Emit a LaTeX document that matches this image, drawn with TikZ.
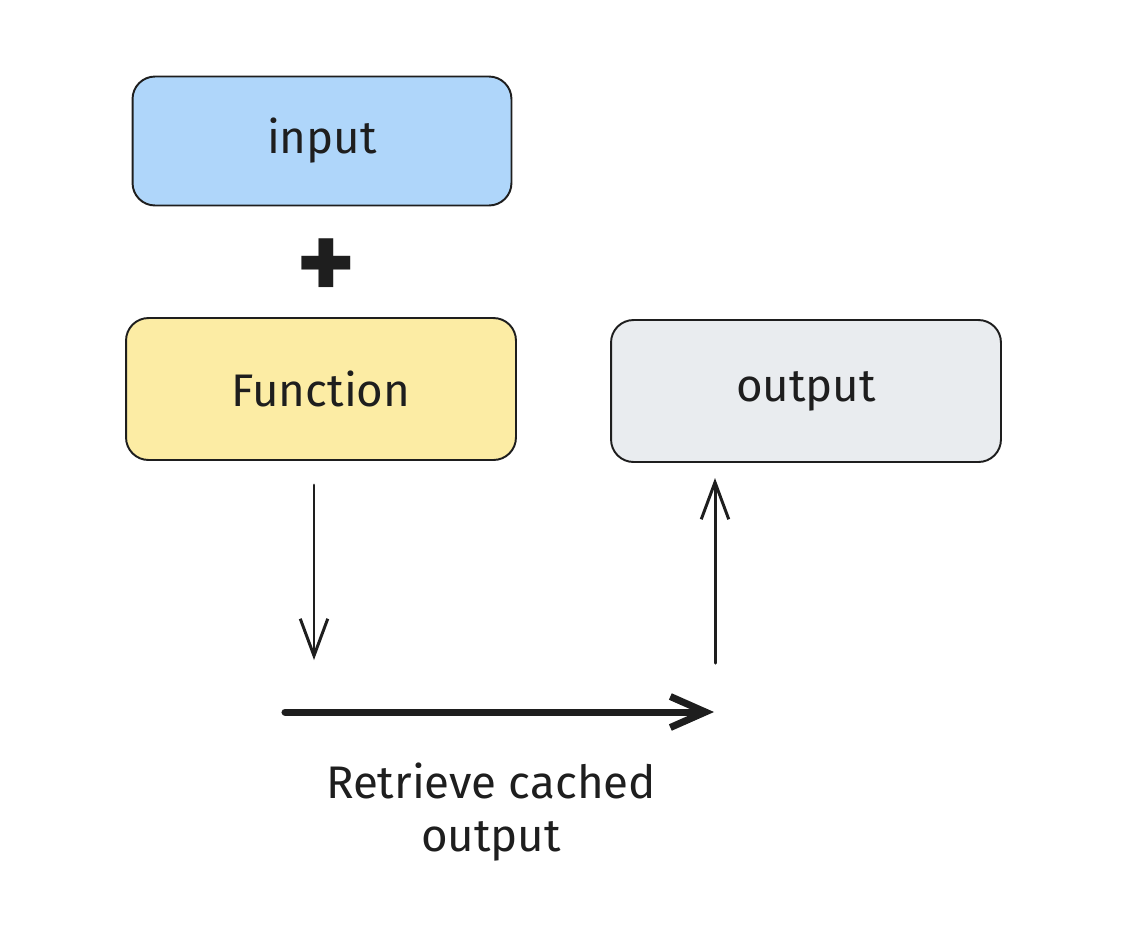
\documentclass[tikz,border=0pt]{standalone}
\usepackage{fontspec}
\setmainfont{Fira Sans}
\usetikzlibrary{arrows.meta}
\definecolor{inputblue}{HTML}{AFD6FA}
\definecolor{funcyellow}{HTML}{FCECA4}
\definecolor{outgrey}{HTML}{E9ECEF}
\definecolor{ink}{HTML}{1E1E1E}
\def\boxround{0.45cm}

\begin{document}
\begin{tikzpicture}[x=0.02cm, y=-0.02cm, draw=ink, text=ink]
    \tikzstyle{block}=[rectangle, rounded corners=\boxround, draw=ink, line width=1.1pt, minimum width=7.8cm, minimum height=2.84cm, font=\fontsize{26}{30}\selectfont]
    \tikzstyle{flow}=[-{Straight Barb[length=0.74cm,width=0.55cm]}, line width=1.7pt, line cap=round]
    \tikzstyle{bigflow}=[-{Straight Barb[length=0.7cm,width=0.62cm]}, line width=4pt, line cap=round]
    \tikzstyle{annot}=[align=center, font=\fontsize{26}{30}\selectfont]

    \useasboundingbox (0,0) rectangle (1126,938);

    % Draw the boxes
    \node[block, fill=inputblue, minimum width=7.58cm, minimum height=2.58cm] (input) at (322,141) {input};
    \node[font=\fontsize{64}{64}\selectfont\bfseries] (plus) at (326,270) {+};
    \node[block, fill=funcyellow] (func) at (321,389) {Function};
    \node[block, fill=outgrey] (output) at (806,391) {output};

    % End points of the arrows
    \coordinate (down-a) at (314,485);
    \coordinate (down-b) at (314,660);
    \coordinate (up-a) at (715,663);
    \coordinate (up-b) at (715,478);
    \coordinate (cache-a) at (285,712);
    \coordinate (cache-b) at (714,712);

    % Draw the arrows
    \draw[flow] (down-a) -- (down-b);
    \draw[flow] (up-a) -- (up-b);
    \draw[bigflow] (cache-a) -- (cache-b);

    % Annotate the retrieval
    \node[annot] (cache) at (491,812) {Retrieve cached\\output};
\end{tikzpicture}
\end{document}
